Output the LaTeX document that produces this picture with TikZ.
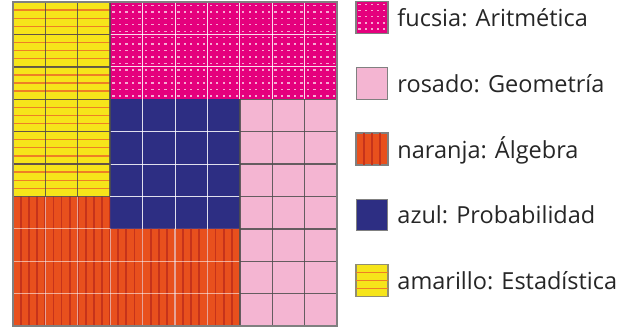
\documentclass[tikz,border=0pt]{standalone}
\usepackage{fontspec}
\setmainfont{Open Sans}
\usepackage{tikz}
\usetikzlibrary{positioning,calc}

\definecolor{fucsia}{HTML}{E5007D}
\definecolor{rosado}{HTML}{F4B5D2}
\definecolor{naranja}{HTML}{E8501D}
\definecolor{azul}{HTML}{2D2E83}
\definecolor{amarillo}{HTML}{F6E51A}
\definecolor{franja}{HTML}{EE7F24}
\definecolor{raya}{HTML}{C6331B}
\definecolor{punto}{HTML}{F7A8D2}
\definecolor{gris}{HTML}{4D4D4D}

\begin{document}
\begin{tikzpicture}[x=32.4pt, y=-32.4pt, font=\fontsize{23.5}{28}\selectfont,
    lineablanca/.style={white, opacity=0.85, line width=0.9pt},
    lineaclara/.style={white, opacity=0.55, line width=1.3pt},
    lineaoscura/.style={gris, opacity=0.85, line width=1.4pt},
    borde/.style={gray, line width=2pt},
    franjas/.style={franja, line width=1.3pt},
    rayas/.style={raya, line width=1.8pt},
    clave/.style={draw=gray, line width=1pt, minimum size=31.5pt, inner sep=0pt},
    etiqueta/.style={anchor=west, inner sep=0pt, text height=22pt, text depth=4pt, text=black!85}]
    \useasboundingbox (-0.401,-0.062) rectangle (19.228,10.031);

    % Regions
    \fill[amarillo] (0,0) rectangle (3,6);
    \fill[fucsia] (3,0) rectangle (10,3);
    \fill[azul] (3,3) rectangle (7,7);
    \fill[rosado] (7,3) rectangle (10,10);
    \fill[naranja] (0,6) -- (3,6) -- (3,7) -- (7,7) -- (7,10) -- (0,10) -- cycle;

    % Yellow stripes
    \foreach \r in {1,...,23}
        \draw[franjas] (0,\r/4) -- (3,\r/4);

    % Orange stripes
    \begin{scope}
        \clip (0,6) -- (3,6) -- (3,7) -- (7,7) -- (7,10) -- (0,10) -- cycle;
        \foreach \c in {1,...,27}
            \draw[rayas] (\c/4,6) -- (\c/4,10);
        \foreach \c in {1,...,6}
            \draw[lineaclara] (\c,6) -- (\c,10);
        \foreach \r in {7,8,9}
            \draw[lineaclara] (0,\r) -- (7,\r);
    \end{scope}

    % Fucsia dots
    \foreach \i in {3,...,9}
        \foreach \j in {0,1,2}
            \foreach \a in {0,...,4}
                \foreach \b in {0,...,4}
                    \fill[punto] (\i+0.07+0.2*\a, \j+0.08+0.2*\b) rectangle +(0.07,0.045);

    % Grid lines
    \foreach \c in {4,...,9}
        \draw[lineablanca] (\c,0) -- (\c,3);
    \foreach \r in {1,2}
        \draw[lineablanca] (3,\r) -- (10,\r);
    \foreach \c in {4,5,6}
        \draw[lineablanca] (\c,3) -- (\c,7);
    \foreach \r in {4,5,6}
        \draw[lineablanca] (3,\r) -- (7,\r);
    \foreach \c in {1,2,3}
        \draw[lineaoscura] (\c,0) -- (\c,6);
    \foreach \r in {1,...,6}
        \draw[lineaoscura] (0,\r) -- (3,\r);
    \foreach \c in {7,8,9}
        \draw[lineaoscura] (\c,3) -- (\c,10);
    \foreach \r in {3,...,9}
        \draw[lineaoscura] (7,\r) -- (10,\r);
    \draw[borde] (0,0) rectangle (10,10);

    % Legend
    \node[clave, fill=fucsia] (kfucsia) at (11.08,0.48) {};
    \node[clave, fill=rosado] (krosado) at (11.08,2.51) {};
    \node[clave, fill=naranja] (knaranja) at (11.08,4.54) {};
    \node[clave, fill=azul] (kazul) at (11.08,6.57) {};
    \node[clave, fill=amarillo, draw=gray!80!olive] (kamarillo) at (11.08,8.6) {};

    \foreach \a in {0,...,4}
        \foreach \b in {0,...,4}
            \fill[punto] ($(kfucsia.north west)+(0.08+0.19*\a,0.07+0.19*\b)$) rectangle +(0.07,0.045);
    \foreach \f in {0.25,0.5,0.75} {
        \draw[rayas] ($(knaranja.north west)!\f!(knaranja.north east)$) -- ($(knaranja.south west)!\f!(knaranja.south east)$);
        \draw[franjas] ($(kamarillo.north west)!\f!(kamarillo.south west)$) -- ($(kamarillo.north east)!\f!(kamarillo.south east)$);
    }
    \draw[gray, line width=1pt] (kfucsia.north west) rectangle (kfucsia.south east);
    \draw[gray, line width=1pt] (knaranja.north west) rectangle (knaranja.south east);
    \draw[gray!80!olive, line width=1pt] (kamarillo.north west) rectangle (kamarillo.south east);

    \node[etiqueta, right=9pt of kfucsia] (lfucsia) {fucsia: Aritmética};
    \node[etiqueta, right=9pt of krosado] (lrosado) {rosado: Geometría};
    \node[etiqueta, right=9pt of knaranja] (lnaranja) {naranja: Álgebra};
    \node[etiqueta, right=9pt of kazul] (lazul) {azul: Probabilidad};
    \node[etiqueta, right=9pt of kamarillo] (lamarillo) {amarillo: Estadística};
\end{tikzpicture}
\end{document}
